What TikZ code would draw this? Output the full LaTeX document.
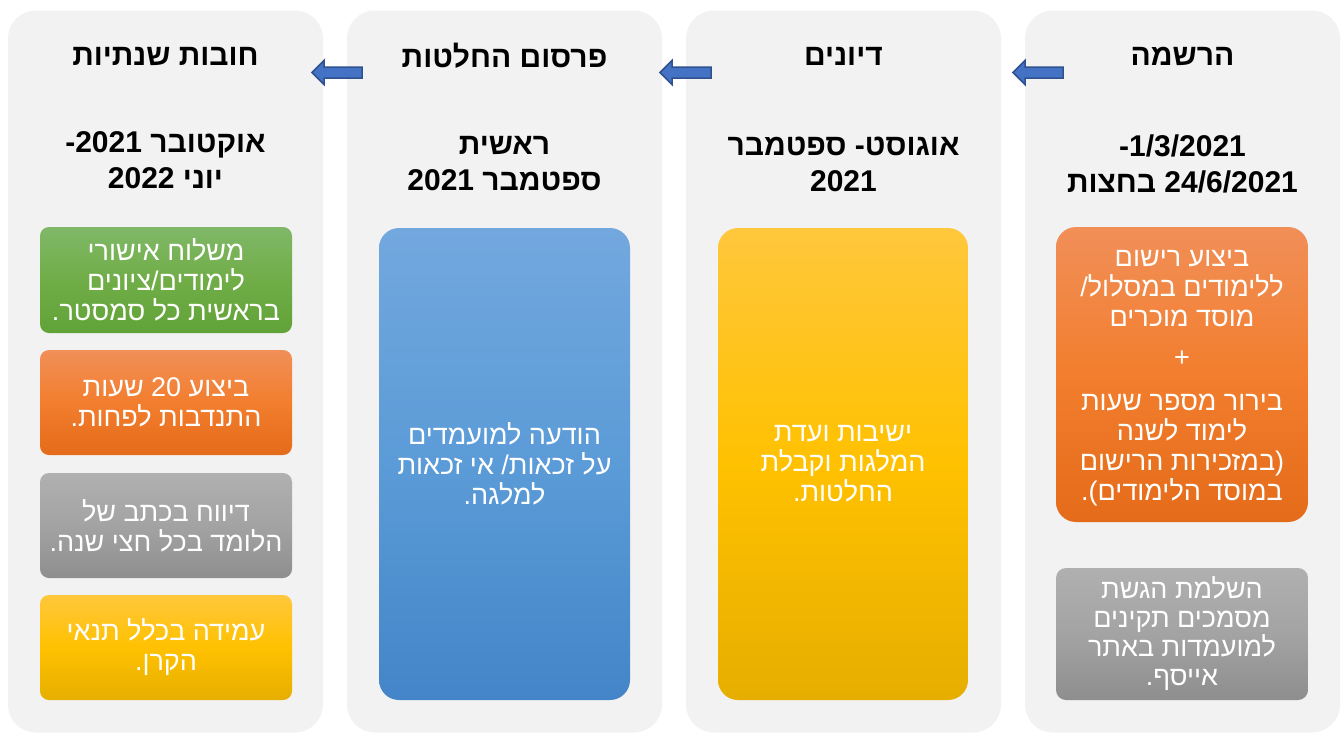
\documentclass[tikz,border=0pt]{standalone}
\usepackage{fontspec}
\setmainfont{Liberation Sans}
\newfontfamily\heb[Script=Hebrew]{Liberation Sans}
\TeXXeTstate=1
\newcommand\RL[1]{\beginR #1\endR}
\definecolor{panelbg}{HTML}{F2F2F2}
\definecolor{or1}{HTML}{F18F58}
\definecolor{or2}{HTML}{F27E2E}
\definecolor{or3}{HTML}{E46B19}
\definecolor{gr1}{HTML}{B0B0B0}
\definecolor{gr2}{HTML}{A3A3A3}
\definecolor{gr3}{HTML}{8E8E8E}
\definecolor{ye1}{HTML}{FFC73C}
\definecolor{ye2}{HTML}{FFC100}
\definecolor{ye3}{HTML}{E6AE00}
\definecolor{bl1}{HTML}{72A8DE}
\definecolor{bl2}{HTML}{5B9BD7}
\definecolor{bl3}{HTML}{4385C8}
\definecolor{gn1}{HTML}{80B868}
\definecolor{gn2}{HTML}{70AD47}
\definecolor{gn3}{HTML}{61A338}
\definecolor{arfill}{HTML}{4472C4}
\definecolor{ardraw}{HTML}{2F528F}
\newcommand\blockarrow[2]{%
  \draw[barrow] ([yshift=-5.5pt]#1) -- ([shift={(12pt,-5.5pt)}]#2) -- ([shift={(12pt,-12pt)}]#2) -- (#2)
    -- ([shift={(12pt,12pt)}]#2) -- ([shift={(12pt,5.5pt)}]#2) -- ([yshift=5.5pt]#1) -- cycle;}
\begin{document}
\begin{tikzpicture}[x=1pt,y=-1pt,
  panel/.style={fill=panelbg, rounded corners=28pt, minimum width=315pt, minimum height=722pt, inner sep=0pt},
  title/.style={font=\heb\bfseries\fontsize{30}{36}\selectfont, align=center, text=black, inner sep=0pt},
  btext/.style={inner sep=0pt, text=white, align=center, font=\heb\fontsize{27}{30}\selectfont},
  cbox/.style={rounded corners=#1, inner sep=0pt, btext},
  orangeg/.style={top color=or1, bottom color=or3, middle color=or2},
  grayg/.style={top color=gr1, bottom color=gr3, middle color=gr2},
  yellowg/.style={top color=ye1, bottom color=ye3, middle color=ye2},
  blueg/.style={top color=bl1, bottom color=bl3, middle color=bl2},
  greeng/.style={top color=gn1, bottom color=gn3, middle color=gn2},
  barrow/.style={fill=arfill, draw=ardraw, line width=1.5pt, line join=miter}
]
\fill[white] (0,0) rectangle (1344,734);
\useasboundingbox (0,0) rectangle (1344,734);

% panels
\node[panel] (p1) at (1182.5,371.5) {};
\node[panel] (p2) at (843.5,371.5) {};
\node[panel] (p3) at (504.5,371.5) {};
\node[panel] (p4) at (165.5,371.5) {};

% arrows
\coordinate (a1tail) at (1063,72.5); \coordinate (a1tip) at (1013,72.5);
\coordinate (a2tail) at (711,72.5);  \coordinate (a2tip) at (660,72.5);
\coordinate (a3tail) at (362,72.5);  \coordinate (a3tip) at (312,72.5);
\blockarrow{a1tail}{a1tip}
\blockarrow{a2tail}{a2tip}
\blockarrow{a3tail}{a3tip}

% titles
\node[title] (t1) at (1182.5,56) {\RL{הרשמה}};
\node[title] (t2) at (843.5,56) {\RL{דיונים}};
\node[title] (t3) at (504.5,56) {\RL{פרסום החלטות}};
\node[title] (t4) at (165.5,56) {\RL{חובות שנתיות}};

% dates
\node[title] (d1) at (1182.5,164) {\RL{1/3/2021\kern0pt-}\\\RL{24/6/2021 בחצות}};
\node[title] (d2) at (843.5,164) {\RL{אוגוסט\kern0pt- ספטמבר}\\\RL{2021}};
\node[title] (d3) at (504.5,164) {\RL{ראשית}\\\RL{ספטמבר 2021}};
\node[title] (d4) at (165.5,160) {\RL{אוקטובר 2021\kern0pt-}\\\RL{יוני 2022}};

% panel 1 boxes
\node[cbox=20pt, orangeg, minimum width=252pt, minimum height=295pt] (b11) at (1182,374.5) {};
\node[btext] (b11t) at (1182,378.5)
  {\RL{ביצוע רישום}\\\RL{ללימודים במסלול\kern0pt/}\\\RL{מוסד מוכרים}\\[10pt]+\\[14pt]%
   \RL{בירור מספר שעות}\\\RL{לימוד לשנה}\\\RL{(\kern0pt במזכירות הרישום}\\\RL{במוסד הלימודים\kern0pt)\kern0pt.}};
\node[cbox=10pt, grayg, minimum width=252pt, minimum height=132pt] (b12) at (1182,634)
  {\RL{השלמת הגשת}\\[-1pt]\RL{מסמכים תקינים}\\[-1pt]\RL{למועמדות באתר}\\[-1pt]\RL{אייסף\kern0pt.}};

% panel 2
\node[cbox=20pt, yellowg, minimum width=250pt, minimum height=472pt] (b21) at (843,464)
  {\RL{ישיבות ועדת}\\\RL{המלגות וקבלת}\\\RL{החלטות\kern0pt.}};

% panel 3
\node[cbox=20pt, blueg, minimum width=251pt, minimum height=472pt] (b31) at (504.5,464)
  {\RL{הודעה למועמדים}\\\RL{על זכאות\kern0pt/ אי זכאות}\\\RL{למלגה\kern0pt.}};

% panel 4
\node[cbox=9pt, greeng, minimum width=252pt, minimum height=106pt] (b41) at (166,280)
  {\RL{משלוח אישורי}\\\RL{לימודים\kern0pt/\kern0pt ציונים}\\\RL{בראשית כל סמסטר\kern0pt.}};
\node[cbox=9pt, orangeg, minimum width=252pt, minimum height=105pt] (b42) at (166,402.5)
  {\RL{ביצוע 20 שעות}\\\RL{התנדבות לפחות\kern0pt.}};
\node[cbox=9pt, grayg, minimum width=252pt, minimum height=105pt] (b43) at (166,525.5)
  {\RL{דיווח בכתב של}\\\RL{הלומד בכל חצי שנה\kern0pt.}};
\node[cbox=9pt, yellowg, minimum width=252pt, minimum height=105pt] (b44) at (166,647.5)
  {\RL{עמידה בכלל תנאי}\\\RL{הקרן\kern0pt.}};
\end{tikzpicture}
\end{document}
